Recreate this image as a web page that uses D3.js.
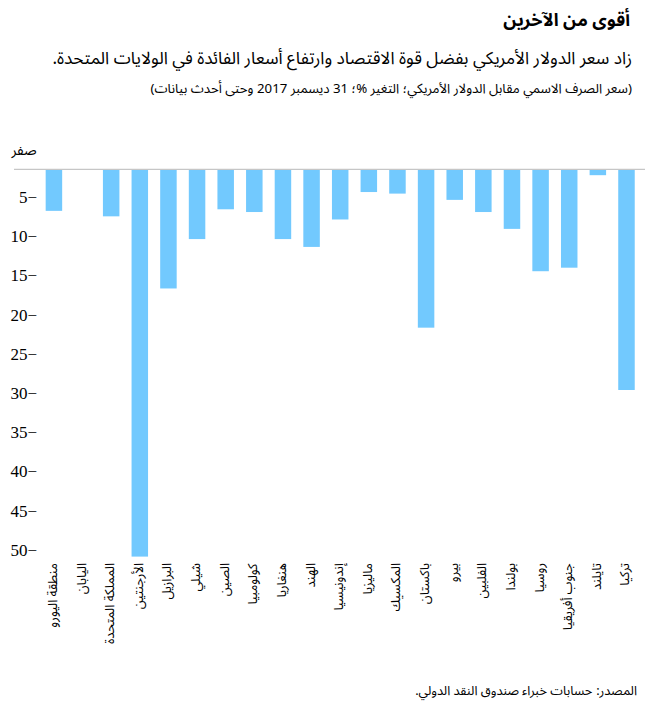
<!DOCTYPE html>
<html><head><meta charset="utf-8">
<script src="https://cdn.jsdelivr.net/npm/d3@7"></script>
<style>body{margin:0;background:#fff} svg{display:block} text.rtl{direction:rtl;unicode-bidi:embed}</style>
</head><body><svg id="c" width="645" height="705"></svg>
<script>
const categories = ["منطقة اليورو","اليابان","المملكة المتحدة","الأرجنتين","البرازيل","شيلي","الصين","كولومبيا","هنغاريا","الهند","إندونيسيا","ماليزيا","المكسيك","باكستان","بيرو","الفلبين","بولندا","روسيا","جنوب أفريقيا","تايلند","تركيا"];
const values = [-5.3, 0, -6.0, -49.4, -15.2, -8.9, -5.1, -5.45, -8.9, -9.9, -6.4, -2.9, -3.1, -20.2, -3.9, -5.45, -7.6, -13.0, -12.55, -0.75, -28.15];
const yTicks = [0,-5,-10,-15,-20,-25,-30,-35,-40,-45,-50];
const zeroLabel = "صفر";
const title = "أقوى من الآخرين";
const subtitle = "زاد سعر الدولار الأمريكي بفضل قوة الاقتصاد وارتفاع أسعار الفائدة في الولايات المتحدة.";
const note = "(سعر الصرف الاسمي مقابل الدولار الأمريكي؛ التغير %؛ 31 ديسمبر 2017 وحتى أحدث بيانات)";
const source = "المصدر: حسابات خبراء صندوق النقد الدولي.";

const svg = d3.select("#c");
const arabic = "'Noto Sans Arabic','DejaVu Sans',sans-serif";
const serif = "'Liberation Serif','Times New Roman',serif";

const x = d3.scaleBand().domain(categories).range([39.6, 640.8]).paddingInner(0.4237).paddingOuter(0.212);
const y = d3.scaleLinear().domain([0, -50]).range([169.3, 561.3]);

// shift an RTL text so that its right edge sits at xRight (local coords)
function alignRight(sel, xRight) {
  sel.each(function () {
    const t = d3.select(this);
    const x0 = +(t.attr("x") || 0);
    const b = this.getBBox();
    t.attr("x", x0 + (xRight - (b.x + b.width)));
  });
}

// right-to-left line: one text per word, first word at the right edge
function rtlLine(parent, str, xRight, y0, fs, opts = {}) {
  const g = parent.append("g");
  const fam = opts.family || arabic, wt = opts.weight || "normal";
  const words = str.split(" ");
  const nodes = words.map(w => g.append("text").attr("class", "rtl").attr("direction", "rtl")
    .attr("y", y0).attr("font-family", fam).attr("font-weight", wt).attr("fill", "#000").text(w));
  const probe = g.append("text").attr("font-family", fam).attr("font-weight", wt);
  function measure(size) {
    nodes.forEach(n => n.attr("font-size", size).attr("x", 0));
    probe.attr("font-size", size).text("ا ا");
    const a = probe.node().getComputedTextLength();
    probe.text("اا");
    const b = probe.node().getComputedTextLength();
    const sp = Math.max(a - b, size * 0.2);
    const ws = nodes.map(n => n.node().getComputedTextLength());
    return { sp, ws, total: d3.sum(ws) + sp * (ws.length - 1) };
  }
  let size = fs, m = measure(size);
  if (opts.target) { size = fs * opts.target / m.total; m = measure(size); }
  let cursor = xRight;
  nodes.forEach((n, i) => {
    n.attr("x", 0);
    alignRight(n, cursor);
    cursor -= m.ws[i] + m.sp;
  });
  probe.remove();
  return g;
}

// titles
rtlLine(svg, title, 630, 26, 19, { weight: "bold", target: 127 });
rtlLine(svg, subtitle, 632, 64, 18, { target: 580 });
rtlLine(svg, note, 632, 93, 13, { target: 482 });

// bars
svg.append("g").selectAll("rect").data(categories).join("rect")
  .attr("x", d => x(d))
  .attr("width", x.bandwidth())
  .attr("y", y(0))
  .attr("height", (d, i) => y(values[i]) - y(0))
  .attr("fill", "#72C9FE");

// zero line
svg.append("line").attr("x1", 14).attr("x2", 645).attr("y1", y(0)).attr("y2", y(0))
  .attr("stroke", "#c6c6c6").attr("stroke-width", 1.3);

// y axis
const yAxis = svg.append("g").attr("transform", "translate(37,0)")
  .call(d3.axisLeft(y).tickValues(yTicks).tickSize(0).tickPadding(0)
    .tickFormat(d => d === 0 ? zeroLabel : "−" + Math.abs(d)));
yAxis.select(".domain").remove();
yAxis.attr("font-family", null).attr("font-size", null);
const yl = yAxis.selectAll("text")
  .attr("class", "rtl").attr("direction", "rtl")
  .attr("fill", "#000")
  .attr("font-family", d => d === 0 ? arabic : serif)
  .attr("font-size", d => d === 0 ? 14 : 17)
  .attr("y", d => d === 0 ? -19 : -11.5);
alignRight(yl, 0);

// category labels (rotated, first word at top)
const labels = svg.append("g");
categories.forEach(c => {
  const g = labels.append("g").attr("transform", `translate(${x(c) + x.bandwidth() / 2 + 3},563) rotate(-90)`);
  rtlLine(g, c, 0, 0, 13);
});

// source
rtlLine(svg, source, 637, 695, 13, { target: 222 });
</script></body></html>
